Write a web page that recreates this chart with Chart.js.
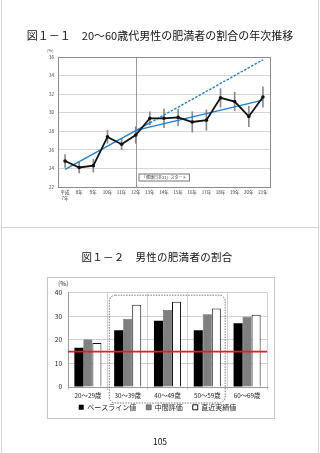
<!DOCTYPE html>
<html lang="ja">
<head>
<meta charset="utf-8">
<script src="https://cdn.jsdelivr.net/npm/chart.js@4/dist/chart.umd.min.js"></script>
<style>
  html, body { margin: 0; padding: 0; background: #fff; }
  body { width: 320px; height: 453px; position: relative; overflow: hidden;
         font-family: 'Noto Sans CJK JP', 'Noto Sans', sans-serif; color: #111; }
  .page { position: absolute; left: 1px; width: 316px; border-left: 1px solid #d4d4d4; border-right: 1px solid #d4d4d4; }
  .title { position: absolute; left: 0; width: 320px; text-align: center; white-space: nowrap; color: #111;
           will-change: transform; -webkit-font-smoothing: antialiased; }
  .tiny { position: absolute; font-size: 4px; line-height: 4px; color: #444; }
  #box2 { position: absolute; left: 47px; top: 277px; width: 228px; height: 142px; border: 1px solid #c8c8c8; box-sizing: border-box; }
  canvas { position: absolute; }
</style>
</head>
<body>
<div class="page" style="top:0; height:227px; border-bottom:1px solid #d4d4d4;"></div>
<div class="page" style="top:228px; height:225px;"></div>

<div class="title" style="top:28px; font-size:11px; line-height:14px;">図１－１　20～60歳代男性の肥満者の割合の年次推移</div>
<div class="tiny" style="left:47px; top:48px;">(%)</div>
<div style="position:absolute; left:20px; top:44px; width:260px; height:166px;"><canvas id="c1"></canvas></div>

<div class="title" style="top:250px; left:-3px; font-size:10.5px; line-height:14px; letter-spacing:0.3px;">図１－２　男性の肥満者の割合</div>
<div id="box2"></div>
<div style="position:absolute; left:58px; top:280px; font-size:6.5px; line-height:7px; color:#222;">(%)</div>
<div style="position:absolute; left:48px; top:278px; width:226px; height:149px;"><canvas id="c2"></canvas></div>

<div class="title" style="top:436px; font-size:8.5px; line-height:10px;">105</div>

<script>
// ---- 図1-1 データ ----
const YEARS = ['平成7年','8年','9年','10年','11年','12年','13年','14年','15年','16年','17年','18年','19年','20年','21年'];
const OBESITY_RATE = [24.8, 24.1, 24.3, 27.4, 26.6, 27.6, 29.4, 29.4, 29.5, 29.0, 29.2, 31.6, 31.2, 29.6, 31.7];
const ERROR_MARGIN = [0.7, 0.6, 0.7, 0.7, 0.6, 0.9, 0.7, 1.0, 0.9, 1.1, 1.1, 1.0, 1.0, 1.1, 1.1];
// 平成7-12年の傾向線（13年以降は点線で延長）
const TREND_PRE_AT = ['平成7年', '13年', '21年'];
const TREND_PRE = [23.9, 28.9, 35.7];
// 平成12年以降の傾向線
const TREND_POST_AT = ['12年', '21年'];
const TREND_POST = [28.1, 31.35];
const START_YEAR = '12年';
const START_NOTE = '「健康日本21」スタート';
const Y1_TICKS = [22, 24, 26, 28, 30, 32, 34, 36];

// ---- 図1-2 データ ----
const AGE_GROUPS = ['20～29歳', '30～39歳', '40～49歳', '50～59歳', '60～69歳'];
const BASELINE = [16.7, 24.1, 28.1, 24.1, 27.0];
const MIDTERM = [20.1, 28.9, 32.7, 30.9, 29.8];
const LATEST = [18.7, 34.9, 36.2, 33.3, 30.6];
const TARGET = 15;
const HIGHLIGHT = ['30～39歳', '50～59歳'];
const Y2_TICKS = [0, 10, 20, 30, 40];

const FONT = "'Noto Sans CJK JP', 'Noto Sans', sans-serif";
Chart.defaults.font.family = FONT;
Chart.defaults.animation = false;
const BLUE = '#1a7fd6';

const pairs = (xs, ys) => xs.map((x, i) => ({ x, y: ys[i] }));

// 枠線・12年の縦線・注記
const frame1 = {
  id: 'frame1',
  beforeDatasetsDraw(chart) {
    const { ctx, chartArea: a, scales: { x } } = chart;
    const px = Math.round(x.getPixelForValue(YEARS.indexOf(START_YEAR))) + 0.5;
    ctx.save();
    ctx.strokeStyle = '#9a9a9a';
    ctx.lineWidth = 1;
    ctx.beginPath(); ctx.moveTo(px, a.top); ctx.lineTo(px, a.bottom); ctx.stroke();
    ctx.strokeStyle = '#8c8c8c';
    ctx.strokeRect(Math.round(a.left) + 0.5, Math.round(a.top) + 0.5, Math.round(a.right - a.left), Math.round(a.bottom - a.top));
    // 注記ボックス
    ctx.font = `4px ${FONT}`;
    const w = ctx.measureText(START_NOTE).width + 6;
    const bx = px + 2.5, by = a.bottom - 13;
    ctx.fillStyle = '#fff';
    ctx.fillRect(bx, by, w, 7);
    ctx.strokeStyle = '#777';
    ctx.strokeRect(bx, by, w, 7);
    ctx.fillStyle = '#333';
    ctx.textBaseline = 'middle';
    ctx.fillText(START_NOTE, bx + 3, by + 3.6);
    ctx.restore();
  },
};

new Chart(document.getElementById('c1'), {
  type: 'line',
  data: {
    labels: YEARS,
    datasets: [
      { type: 'line', data: OBESITY_RATE, borderColor: '#111', borderWidth: 1.8, pointRadius: 1.8,
        pointBackgroundColor: '#111', pointBorderWidth: 0, tension: 0, order: 0 },
      { type: 'bar', data: OBESITY_RATE.map((v, i) => [v - ERROR_MARGIN[i], v + ERROR_MARGIN[i]]),
        backgroundColor: '#8a8a8a', barThickness: 1, order: 3 },
      { type: 'line', data: pairs(TREND_PRE_AT, TREND_PRE), borderColor: BLUE, borderWidth: 1.4, pointRadius: 0,
        segment: { borderDash: (c) => (c.p0DataIndex >= 1 ? [2.5, 1.5] : undefined) }, order: 1 },
      { type: 'line', data: pairs(TREND_POST_AT, TREND_POST), borderColor: BLUE, borderWidth: 1.4, pointRadius: 0, order: 1 },
    ],
  },
  options: {
    responsive: true, maintainAspectRatio: false,
    layout: { padding: { top: 13, right: 10, left: 0, bottom: 0 } },
    plugins: { legend: { display: false }, tooltip: { enabled: false } },
    scales: {
      x: {
        offset: true,
        grid: { display: false, drawTicks: false },
        border: { display: false },
        ticks: {
          color: '#333', font: { size: 4.5 }, padding: 3, maxRotation: 0, autoSkip: false,
          callback(v) { const l = this.getLabelForValue(v); return l.startsWith('平成') ? ['平成', l.slice(2)] : l; },
        },
        afterFit: (s) => { s.height = 23; },
      },
      y: {
        min: Y1_TICKS[0], max: Y1_TICKS[Y1_TICKS.length - 1],
        afterBuildTicks: (s) => { s.ticks = Y1_TICKS.map((value) => ({ value })); },
        grid: { color: '#d6d6d6', drawTicks: false },
        border: { display: false },
        ticks: { color: '#333', font: { size: 4.5 }, padding: 4 },
        afterFit: (s) => { s.width = 38; },
      },
    },
  },
  plugins: [frame1],
});

// 目標線と点線枠、凡例を軸ラベルに寄せる
const overlay2 = {
  id: 'overlay2',
  afterLayout(chart) {
    const lg = chart.legend;
    if (lg) { lg.top -= 6.2; lg.bottom -= 6.2; }
  },
  afterDatasetsDraw(chart) {
    const { ctx, chartArea: a, scales: { x, y } } = chart;
    ctx.save();
    const ty = y.getPixelForValue(TARGET);
    ctx.strokeStyle = '#e0201c';
    ctx.lineWidth = 1.6;
    ctx.beginPath(); ctx.moveTo(a.left, ty); ctx.lineTo(a.right, ty); ctx.stroke();

    const half = x.width / AGE_GROUPS.length / 2;
    const x0 = x.getPixelForValue(AGE_GROUPS.indexOf(HIGHLIGHT[0])) - half + 1.5;
    const x1 = x.getPixelForValue(AGE_GROUPS.indexOf(HIGHLIGHT[1])) + half - 2;
    const y0 = a.top + 2.5, y1 = a.bottom + 16;
    ctx.strokeStyle = '#555';
    ctx.lineWidth = 0.8;
    ctx.setLineDash([1.5, 1.2]);
    ctx.beginPath();
    ctx.roundRect(x0, y0, x1 - x0, y1 - y0, 6);
    ctx.stroke();
    ctx.restore();
  },
};

new Chart(document.getElementById('c2'), {
  type: 'bar',
  data: {
    labels: AGE_GROUPS,
    datasets: [
      { label: 'ベースライン値', data: BASELINE, backgroundColor: '#000', borderWidth: 0 },
      { label: '中間評価', data: MIDTERM, backgroundColor: '#7f7f7f', borderColor: '#333', borderWidth: 0.5 },
      { label: '直近実績値', data: LATEST, backgroundColor: '#fff', borderColor: '#111', borderWidth: 1 },
    ],
  },
  options: {
    responsive: true, maintainAspectRatio: false,
    layout: { padding: { top: 14.7, right: 7, left: 0, bottom: 0 } },
    datasets: { bar: { categoryPercentage: 0.68, barPercentage: 1.0, borderSkipped: 'bottom' } },
    plugins: {
      tooltip: { enabled: false },
      legend: {
        position: 'bottom',
        labels: { color: '#222', boxWidth: 5, boxHeight: 5, padding: 10, font: { size: 7 } },
      },
    },
    scales: {
      x: {
        grid: { color: '#d0d0d0', offset: true, tickLength: 3 },
        border: { color: '#999' },
        ticks: { color: '#222', font: { size: 6.3 }, padding: 2, maxRotation: 0 },
        afterFit: (s) => { s.height = 13; },
      },
      y: {
        min: Y2_TICKS[0], max: Y2_TICKS[Y2_TICKS.length - 1],
        afterBuildTicks: (s) => { s.ticks = Y2_TICKS.map((value) => ({ value })); },
        grid: { color: '#d0d0d0', drawTicks: false },
        border: { color: '#999' },
        ticks: { color: '#222', font: { size: 6.5 }, padding: 6 },
        afterFit: (s) => { s.width = 20; },
      },
    },
  },
  plugins: [overlay2],
});
</script>
</body>
</html>
